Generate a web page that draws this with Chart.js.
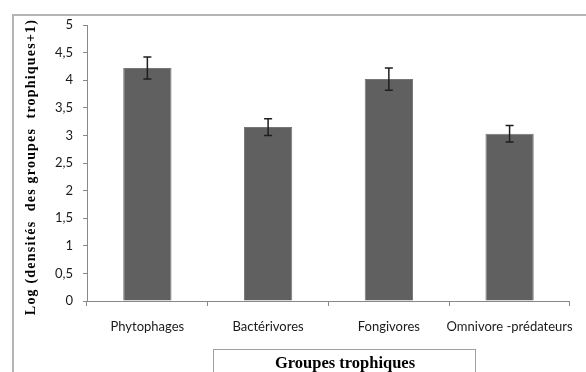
<!DOCTYPE html>
<html>
<head>
<meta charset="utf-8">
<script src="https://cdn.jsdelivr.net/npm/chart.js@4.4.0/dist/chart.umd.min.js"></script>
<style>
  html, body { margin: 0; padding: 0; background: #fff; }
  #wrap { width: 586px; height: 372px; }
</style>
</head>
<body>
<div id="wrap"><canvas id="chart" width="586" height="372"></canvas></div>
<script>
// data
var groupes = ['Phytophages', 'Bactérivores', 'Fongivores', 'Omnivore -prédateurs'];
var moyennes = [4.22, 3.15, 4.02, 3.03];
var erreurs = [0.2, 0.15, 0.2, 0.15];
var yTicks = [0, 0.5, 1, 1.5, 2, 2.5, 3, 3.5, 4, 4.5, 5];

var titreX = 'Groupes trophiques';
var titreY = 'Log (densités  des groupes  trophiques+1)';

// error bars, frame and both axis titles
var extras = {
  id: 'extras',
  beforeDraw: function(chart) {
    var ctx = chart.ctx;
    ctx.save();
    ctx.strokeStyle = '#b4b4b4';
    ctx.lineWidth = 2;
    ctx.beginPath();
    ctx.moveTo(13, 400);
    ctx.lineTo(13, 15);
    ctx.lineTo(600, 15);
    ctx.stroke();
    ctx.restore();
  },
  afterDatasetsDraw: function(chart) {
    var ctx = chart.ctx;
    var x = chart.scales.x, y = chart.scales.y;
    ctx.save();
    ctx.strokeStyle = '#1e1e1e';
    ctx.lineWidth = 1.5;
    for (var i = 0; i < moyennes.length; i++) {
      var cx = x.getPixelForValue(i);
      var top = y.getPixelForValue(moyennes[i] + erreurs[i]);
      var bot = y.getPixelForValue(moyennes[i] - erreurs[i]);
      ctx.beginPath();
      ctx.moveTo(cx, top); ctx.lineTo(cx, bot);
      ctx.moveTo(cx - 4, top); ctx.lineTo(cx + 4, top);
      ctx.moveTo(cx - 4, bot); ctx.lineTo(cx + 4, bot);
      ctx.stroke();
    }
    ctx.restore();
  },
  afterDraw: function(chart) {
    var ctx = chart.ctx;
    ctx.save();
    ctx.strokeStyle = '#a0a0a0';
    ctx.lineWidth = 1;
    ctx.strokeRect(213.5, 349.5, 262, 40);
    ctx.fillStyle = '#000';
    ctx.font = 'bold 16.5px "Liberation Serif"';
    ctx.textAlign = 'center';
    ctx.textBaseline = 'middle';
    ctx.fillText(titreX, 345, 364);

    // y title, rotated
    ctx.translate(31, 167);
    ctx.rotate(-Math.PI / 2);
    ctx.font = 'bold 14px "Liberation Serif"';
    ctx.letterSpacing = '1.2px';
    ctx.fillText(titreY, 0, 0);
    ctx.restore();
  }
};

new Chart(document.getElementById('chart'), {
  type: 'bar',
  data: {
    labels: groupes,
    datasets: [{
      data: moyennes,
      backgroundColor: '#606060',
      borderColor: '#767676',
      borderWidth: 1,
      barPercentage: 0.4,
      categoryPercentage: 1.0
    }]
  },
  options: {
    responsive: false,
    animation: false,
    layout: { padding: { top: 25, right: 3, left: 0, bottom: 0 } },
    plugins: { legend: { display: false }, tooltip: { enabled: false } },
    scales: {
      x: {
        offset: true,
        grid: { display: true, offset: true, drawOnChartArea: false, tickLength: 5, color: '#888' },
        border: { color: '#888', width: 1 },
        ticks: { color: '#1a1a1a', font: { family: 'Lato', size: 13 }, padding: 13, maxRotation: 0, autoSkip: false },
        afterFit: function(s) { s.height = 71; }
      },
      y: {
        min: 0, max: 5,
        afterBuildTicks: function(s) { s.ticks = yTicks.map(function(v) { return { value: v }; }); },
        grid: { display: true, drawOnChartArea: false, tickLength: 4, color: '#888' },
        border: { color: '#888', width: 1 },
        ticks: {
          color: '#1a1a1a', font: { family: 'Lato', size: 13 }, padding: 10,
          callback: function(v) { return String(v).replace('.', ','); }
        },
        afterFit: function(s) { s.width = 87; }
      }
    }
  },
  plugins: [extras]
});
</script>
</body>
</html>
